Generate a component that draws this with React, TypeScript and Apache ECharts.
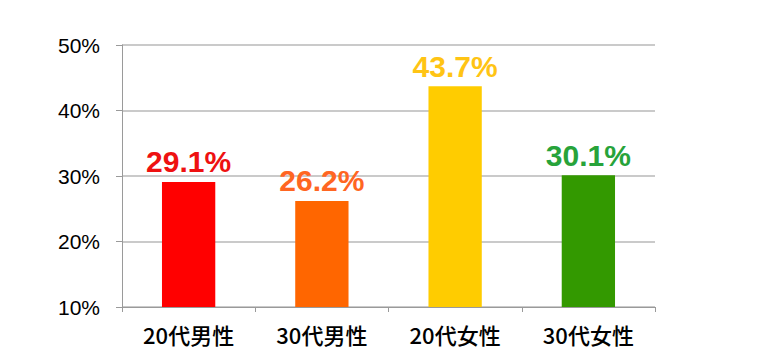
import React, { useEffect, useRef } from "react";
import * as echarts from "echarts";

const categories = ["20代男性", "30代男性", "20代女性", "30代女性"];
const values = [29.1, 26.2, 43.7, 30.1];
const barColors = ["#ff0000", "#ff6600", "#ffcc00", "#339900"];
const labelColors = ["#ee1111", "#ff6622", "#ffc414", "#27a33a"];
const yMin = 10;
const yMax = 50;
const yInterval = 10;

export default function App() {
  const ref = useRef<HTMLDivElement>(null);
  useEffect(() => {
    if (!ref.current) return;
    const chart = echarts.init(ref.current, null, { renderer: "svg" });
    chart.setOption({
      animation: false,
      backgroundColor: "#ffffff",
      grid: { left: 122, right: 121, top: 45, bottom: 53, containLabel: false },
      xAxis: {
        type: "category",
        data: categories,
        axisLine: { show: true, lineStyle: { color: "#9a9a9a", width: 1 } },
        axisTick: { show: true, length: 5, lineStyle: { color: "#9a9a9a" } },
        axisLabel: {
          margin: 16,
          fontSize: 22,
          fontWeight: 500,
          color: "#000000",
          fontFamily: "'Noto Sans CJK JP', sans-serif",
        },
      },
      yAxis: {
        type: "value",
        min: yMin,
        max: yMax,
        interval: yInterval,
        axisLine: { show: true, lineStyle: { color: "#9a9a9a", width: 1 } },
        axisTick: { show: true, length: 6, lineStyle: { color: "#9a9a9a" } },
        splitLine: { show: true, lineStyle: { color: "#b8b8b8", width: 1.5 } },
        axisLabel: {
          margin: 22,
          fontSize: 21,
          color: "#000000",
          fontFamily: "'Liberation Sans', Arial, sans-serif",
          formatter: "{value}%",
          padding: [5, 0, 0, 0],
        },
      },
      series: [
        {
          type: "bar",
          barWidth: "40%",
          data: values.map((v, i) => ({
            value: v,
            itemStyle: { color: barColors[i] },
            label: { color: labelColors[i] },
          })),
          label: {
            show: true,
            position: "top",
            distance: 5,
            fontSize: 30,
            fontWeight: "bold",
            fontFamily: "'Liberation Sans', Arial, sans-serif",
            formatter: (p: any) => p.value.toFixed(1) + "%",
          },
        },
      ],
    });
    return () => chart.dispose();
  }, []);
  return (
    <div
      ref={ref}
      style={{ position: "absolute", left: 0, top: 0, width: 776, height: 360 }}
    />
  );
}
